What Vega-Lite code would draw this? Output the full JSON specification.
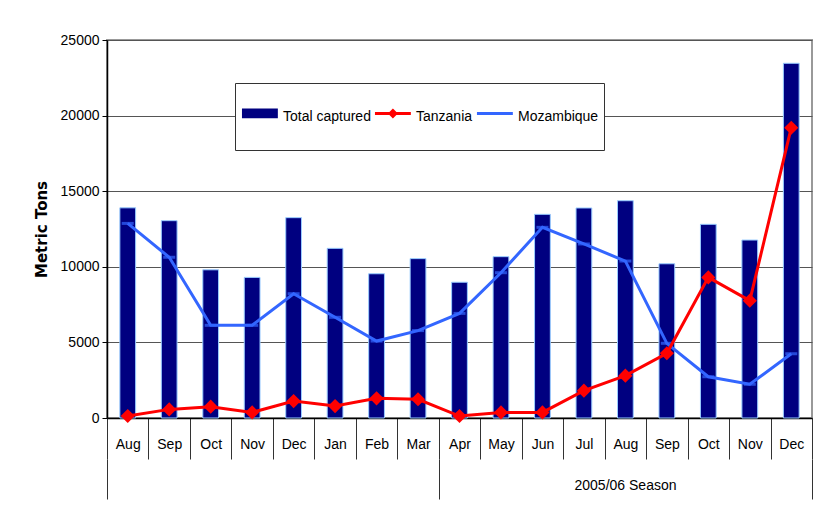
{
  "$schema": "https://vega.github.io/schema/vega-lite/v6.json",
  "autosize": "none",
  "width": 705,
  "height": 378,
  "padding": {"left": 107, "top": 40, "right": 20, "bottom": 98},
  "background": "white",
  "config": {
    "view": {"fill": "#FFFFCC", "stroke": "#999999", "strokeWidth": 2},
    "font": "Liberation Sans"
  },
  "datasets": {
    "main": [
      {"key": "01_Aug", "total": 13900, "tanzania": 130, "mozambique": 12870},
      {"key": "02_Sep", "total": 13050, "tanzania": 570, "mozambique": 10630},
      {"key": "03_Oct", "total": 9800, "tanzania": 750, "mozambique": 6130},
      {"key": "04_Nov", "total": 9300, "tanzania": 370, "mozambique": 6130},
      {"key": "05_Dec", "total": 13250, "tanzania": 1120, "mozambique": 8220},
      {"key": "06_Jan", "total": 11220, "tanzania": 790, "mozambique": 6660},
      {"key": "07_Feb", "total": 9540, "tanzania": 1300, "mozambique": 5090},
      {"key": "08_Mar", "total": 10540, "tanzania": 1240, "mozambique": 5780},
      {"key": "09_Apr", "total": 8980, "tanzania": 130, "mozambique": 6920},
      {"key": "10_May", "total": 10670, "tanzania": 370, "mozambique": 9610},
      {"key": "11_Jun", "total": 13470, "tanzania": 370, "mozambique": 12610},
      {"key": "12_Jul", "total": 13890, "tanzania": 1810, "mozambique": 11510},
      {"key": "13_Aug", "total": 14370, "tanzania": 2800, "mozambique": 10380},
      {"key": "14_Sep", "total": 10200, "tanzania": 4280, "mozambique": 4940},
      {"key": "15_Oct", "total": 12810, "tanzania": 9300, "mozambique": 2730},
      {"key": "16_Nov", "total": 11770, "tanzania": 7760, "mozambique": 2230},
      {"key": "17_Dec", "total": 23460, "tanzania": 19200, "mozambique": 4250}
    ],
    "season": [{"pos": 0}, {"pos": 17}],
    "series": [{"s": "Total captured"}, {"s": "Tanzania"}, {"s": "Mozambique"}]
  },
  "layer": [
    {
      "data": {"name": "main"},
      "encoding": {
        "x": {
          "field": "key", "type": "ordinal", "sort": null,
          "scale": {"paddingInner": 0, "paddingOuter": 0},
          "axis": {
            "title": null, "orient": "bottom",
            "labelExpr": "substring(datum.label, 3)",
            "labelAngle": 0, "labelFontSize": 14, "labelColor": "black", "labelFont": "Liberation Sans",
            "labelBaseline": "top", "labelPadding": -22, "labelOverlap": false, "labelBound": false, "labelFlush": false,
            "tickBand": "extent", "tickSize": 41, "tickColor": "#333333", "tickWidth": 1,
            "domainColor": "black", "domainWidth": 1.5, "grid": false
          }
        }
      },
      "layer": [
        {
          "mark": {"type": "bar", "width": {"band": 0.38}, "fill": "#000080", "stroke": "#99CCFF", "strokeWidth": 1},
          "encoding": {
            "y": {
              "field": "total", "type": "quantitative",
              "scale": {"domain": [0, 25000], "nice": false},
              "axis": {
                "title": "Metric Tons", "titleFont": "DejaVu Sans", "titleFontSize": 15, "titleFontWeight": "bold", "titleColor": "black",
                "titlePadding": 11,
                "values": [0, 5000, 10000, 15000, 20000, 25000], "format": "d",
                "labelFontSize": 14, "labelColor": "black", "labelPadding": 3,
                "tickSize": 5, "tickColor": "black", "domainColor": "black", "domainWidth": 1.5,
                "grid": true, "gridColor": "#555555", "gridWidth": 1
              }
            }
          }
        },
        {
          "mark": {"type": "line", "color": "#3366FF", "strokeWidth": 3},
          "encoding": {
            "y": {"field": "mozambique", "type": "quantitative"}
          }
        },
        {
          "mark": {"type": "tick", "color": "#3366FF", "orient": "horizontal", "size": 12, "thickness": 3},
          "encoding": {
            "y": {"field": "mozambique", "type": "quantitative"}
          }
        },
        {
          "mark": {"type": "line", "color": "#FF0000", "strokeWidth": 3},
          "encoding": {
            "y": {"field": "tanzania", "type": "quantitative"}
          }
        },
        {
          "mark": {"type": "point", "shape": "diamond", "filled": true, "color": "#FF0000", "size": 200, "opacity": 1},
          "encoding": {
            "y": {"field": "tanzania", "type": "quantitative"}
          }
        }
      ]
    },
    {
      "data": {"name": "series"},
      "transform": [{"filter": "false"}],
      "mark": {"type": "point", "filled": false, "opacity": 1, "strokeWidth": 3},
      "encoding": {
        "color": {
          "field": "s", "type": "nominal",
          "scale": {"domain": ["Total captured", "Tanzania", "Mozambique"], "range": ["#000080", "#FF0000", "#3366FF"]},
          "legend": {
            "title": null, "orient": "none", "legendX": 128, "legendY": 43, "direction": "horizontal",
            "fillColor": "white", "strokeColor": "#333333", "padding": 5,
            "labelFontSize": 14, "labelColor": "black", "labelFont": "Liberation Sans", "labelBaseline": "bottom",
            "symbolSize": 4500, "symbolStrokeWidth": 3, "symbolOpacity": 1, "symbolFillColor": "transparent",
            "labelOffset": -28, "columnPadding": -3
          }
        },
        "shape": {
          "field": "s", "type": "nominal",
          "scale": {
            "domain": ["Total captured", "Tanzania", "Mozambique"],
            "range": [
              "M-1,-0.4H0.07M-1,-0.35H0.07M-1,-0.3H0.07M-1,-0.25H0.07M-1,-0.2H0.07M0,0.46",
              "M-1,-0.3H0.07M-0.465,-0.385L-0.38,-0.3L-0.465,-0.215L-0.55,-0.3ZM0,0.46",
              "M-1,-0.3H0.07M0,0.46"
            ]
          },
          "legend": {
            "title": null, "orient": "none", "legendX": 128, "legendY": 43, "direction": "horizontal",
            "fillColor": "white", "strokeColor": "#333333", "padding": 5,
            "labelFontSize": 14, "labelColor": "black", "labelFont": "Liberation Sans", "labelBaseline": "bottom",
            "symbolSize": 4500, "symbolStrokeWidth": 3, "symbolOpacity": 1, "symbolFillColor": "transparent",
            "labelOffset": -28, "columnPadding": -3
          }
        }
      }
    },
    {
      "data": {"name": "season"},
      "mark": {"type": "point", "opacity": 0},
      "encoding": {
        "x": {
          "field": "pos", "type": "quantitative",
          "scale": {"domain": [0, 17], "nice": false, "zero": false},
          "axis": {
            "orient": "bottom", "offset": 41, "values": [0, 8, 17], "labels": false, "grid": false, "domain": false,
            "tickSize": 40, "tickColor": "#333333", "tickWidth": 1,
            "title": "2005/06 Season", "titleFontSize": 14, "titleFontWeight": "normal", "titleColor": "black",
            "titleX": 518, "titleY": 26, "titleBaseline": "middle", "titleAlign": "center"
          }
        }
      }
    }
  ],
  "resolve": {"scale": {"x": "independent"}, "axis": {"x": "independent"}}
}
